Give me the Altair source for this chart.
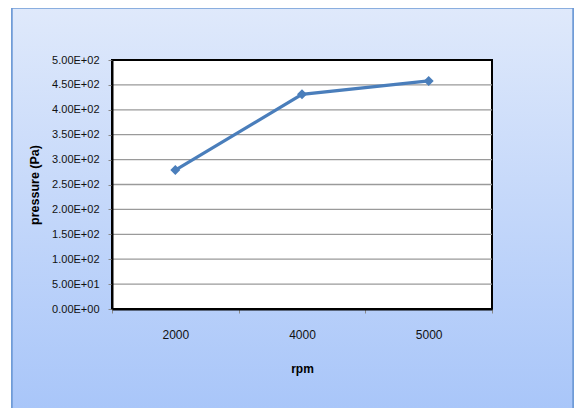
import altair as alt
import pandas as pd

rpm = ["2000", "4000", "5000"]
pressure = [279, 431, 458]
y_ticks = [0, 50, 100, 150, 200, 250, 300, 350, 400, 450, 500]
y_tick_labels = ["0.00E+00", "5.00E+01", "1.00E+02", "1.50E+02", "2.00E+02",
                 "2.50E+02", "3.00E+02", "3.50E+02", "4.00E+02", "4.50E+02", "5.00E+02"]

W, H = 380, 249
FONT = "Liberation Sans"

df = pd.DataFrame({"rpm": rpm, "pressure": pressure})
grid_df = pd.DataFrame({"v": y_ticks})

label_expr = ""
for v, l in zip(y_ticks, y_tick_labels):
    label_expr += f"datum.value == {v} ? '{l}' : "
label_expr += "''"

grad = alt.LinearGradient(
    gradient="linear", x1=0, y1=0, x2=0, y2=1,
    stops=[alt.GradientStop(color="#dfe9fb", offset=0),
           alt.GradientStop(color="#a6c4f9", offset=1)])

bg = alt.Chart(df).mark_rect(color=grad, stroke="#6f9ad6", strokeWidth=1.5).encode(
    x=alt.value(-100), x2=alt.value(461), y=alt.value(-52), y2=alt.value(370))

plot_bg = alt.Chart(df).mark_rect(color="white", stroke="black", strokeWidth=2).encode(
    x=alt.value(0), x2=alt.value(W), y=alt.value(0), y2=alt.value(H))

yscale = alt.Scale(domain=[0, 500], nice=False)

y_axis = alt.Axis(title="pressure (Pa)", values=y_ticks, labelExpr=label_expr,
                  grid=False, tickSize=4, tickColor="#888888",
                  domainColor="black", domainWidth=2, labelPadding=9,
                  labelFont=FONT, labelFontSize=11, labelColor="#111111",
                  titleFont=FONT, titleFontSize=12.5, titleFontWeight="bold",
                  titleColor="#000000", titleX=-78, titleY=H / 2,
                  titleAngle=-90, titleAlign="center", titleBaseline="middle",
                  zindex=1)

grid = alt.Chart(grid_df).transform_filter("datum.v > 0 && datum.v < 500").mark_rule(
    color="#9a9a9a", strokeWidth=1.3).encode(
    y=alt.Y("v:Q", scale=yscale, axis=y_axis, title="pressure (Pa)"),
    x=alt.value(0), x2=alt.value(W))

line = alt.Chart(df).mark_line(
    color="#4a7ebb", strokeWidth=3.2,
    point=alt.OverlayMarkDef(shape="diamond", size=100, filled=True, color="#4a7ebb", opacity=1)
).encode(
    x=alt.X("rpm:N", sort=rpm, scale=alt.Scale(paddingInner=0, paddingOuter=0),
            axis=alt.Axis(title="rpm", labelAngle=0, tickBand="extent", tickSize=4,
                          tickColor="#888888", domainColor="black", domainWidth=2,
                          labelPadding=16, labelFont=FONT, labelFontSize=12,
                          labelColor="#111111", titleFont=FONT, titleFontSize=12,
                          titleFontWeight="bold", titleColor="#000000",
                          titleY=59, titleBaseline="middle", zindex=1)),
    y=alt.Y("pressure:Q", scale=yscale, axis=y_axis, title="pressure (Pa)"),
)

chart = alt.layer(bg, plot_bg, grid, line).properties(
    width=W, height=H,
    autosize=alt.AutoSizeParams(type="none"),
    padding={"left": 104, "top": 52, "right": 82, "bottom": 99},
).configure_view(stroke=None).configure(background="white")

chart.save("out.html", embed_options={"renderer": "svg", "actions": False})
